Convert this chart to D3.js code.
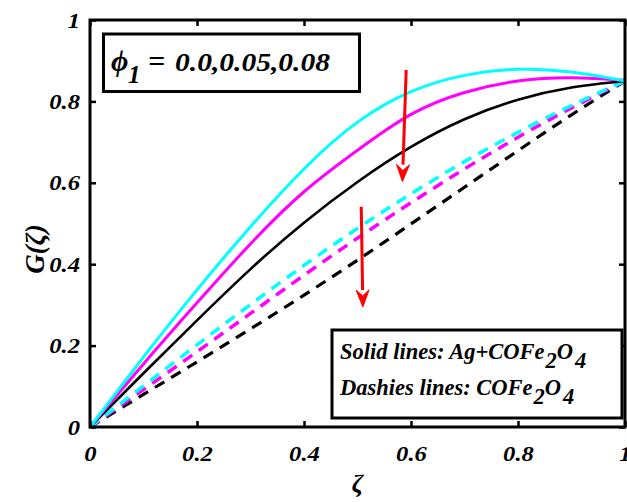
<!DOCTYPE html>
<html>
<head>
<meta charset="utf-8">
<script src="https://cdn.jsdelivr.net/npm/d3@7"></script>
<style>
  html, body { margin: 0; padding: 0; background: #fff; }
  svg { display: block; }
  text { font-family: "Liberation Serif", "Times New Roman", serif; font-weight: bold; font-style: italic; fill: #000; }
</style>
</head>
<body>
<svg id="chart" width="627" height="502"></svg>
<script>
// ---------- data ----------
const zeta = [0, 0.1, 0.2, 0.3, 0.4, 0.5, 0.6, 0.7, 0.8, 0.9, 1.0];

// Solid lines: Ag+COFe2O4
const solidCyan    = [0, 0.172, 0.337, 0.492, 0.634, 0.749, 0.824, 0.864, 0.879, 0.872, 0.850];
const solidMagenta = [0, 0.155, 0.305, 0.450, 0.578, 0.680, 0.768, 0.822, 0.850, 0.858, 0.852];
const solidBlack   = [0, 0.132, 0.262, 0.388, 0.502, 0.602, 0.688, 0.756, 0.804, 0.834, 0.850];

// Dashed lines: COFe2O4
const dashCyan     = [0, 0.101, 0.202, 0.301, 0.397, 0.488, 0.573, 0.652, 0.724, 0.790, 0.850];
const dashMagenta  = [0, 0.092, 0.185, 0.279, 0.373, 0.464, 0.551, 0.634, 0.712, 0.784, 0.850];
const dashBlack    = [0, 0.080, 0.160, 0.241, 0.324, 0.410, 0.499, 0.589, 0.679, 0.767, 0.850];

const xTicks = [0, 0.2, 0.4, 0.6, 0.8, 1];
const yTicks = [0, 0.2, 0.4, 0.6, 0.8, 1];
const xTickLabels = ["0", "0.2", "0.4", "0.6", "0.8", "1"];
const yTickLabels = ["0", "0.2", "0.4", "0.6", "0.8", "1"];

// red annotation arrows, in data coordinates [x0, y0, x1, y1]
const arrows = [
  [0.591, 0.877, 0.584, 0.603],
  [0.507, 0.541, 0.510, 0.295]
];

// ---------- layout ----------
const svg = d3.select("#chart");
const mL = 90, mR = 625, mT = 20, mB = 427;

const x = d3.scaleLinear().domain([0, 1]).range([mL, mR]);
const y = d3.scaleLinear().domain([0, 1]).range([mB, mT]);

const series = [
  { v: dashBlack,    color: "#000000", dash: "11,8", w: 3.2 },
  { v: dashMagenta,  color: "#ff00ff", dash: "11,8", w: 3.5 },
  { v: dashCyan,     color: "#00ffff", dash: "11,8", w: 3.5 },
  { v: solidBlack,   color: "#000000", dash: null,   w: 2.6 },
  { v: solidMagenta, color: "#ff00ff", dash: null,   w: 3.0 },
  { v: solidCyan,    color: "#00ffff", dash: null,   w: 3.0 }
];

const line = d3.line()
  .x(d => x(d[0]))
  .y(d => y(d[1]))
  .curve(d3.curveNatural);

svg.append("g").selectAll("path")
  .data(series)
  .join("path")
  .attr("d", s => line(zeta.map((z, i) => [z, s.v[i]])))
  .attr("fill", "none")
  .attr("stroke", s => s.color)
  .attr("stroke-width", s => s.w)
  .attr("stroke-dasharray", s => s.dash);

// ---------- axes ----------
const tickLen = 6;
const gx = svg.append("g").attr("transform", `translate(0,${mB})`)
  .call(d3.axisBottom(x).tickValues(xTicks).tickSize(-tickLen)
    .tickFormat((d, i) => xTickLabels[i]));
const gy = svg.append("g").attr("transform", `translate(${mL},0)`)
  .call(d3.axisLeft(y).tickValues(yTicks).tickSize(-tickLen)
    .tickFormat((d, i) => yTickLabels[i]));
const gt = svg.append("g").attr("transform", `translate(0,${mT})`)
  .call(d3.axisTop(x).tickValues(xTicks).tickSize(-tickLen).tickFormat(""));
const gr = svg.append("g").attr("transform", `translate(${mR},0)`)
  .call(d3.axisRight(y).tickValues(yTicks).tickSize(-tickLen).tickFormat(""));

[gx, gy, gt, gr].forEach(g => {
  g.select(".domain").remove();
  g.attr("font-family", null).attr("font-size", null);
  g.selectAll(".tick line").attr("stroke", "#000").attr("stroke-width", 2.5);
});

const sx = 1.12;
gx.selectAll(".tick text")
  .attr("y", 34).attr("dy", null)
  .style("font-size", "22px")
  .attr("transform", `scale(${sx},1)`);
gy.selectAll(".tick text")
  .attr("x", -10 / sx).attr("dy", "0.32em")
  .style("font-size", "22px")
  .attr("transform", `scale(${sx},1)`);

// frame
svg.append("rect")
  .attr("x", mL).attr("y", mT)
  .attr("width", mR - mL).attr("height", mB - mT)
  .attr("fill", "none").attr("stroke", "#000").attr("stroke-width", 3);

// axis titles
svg.append("text")
  .attr("x", x(0.5)).attr("y", 492)
  .attr("text-anchor", "middle")
  .style("font-size", "26px")
  .text("ζ");

svg.append("text")
  .attr("transform", `translate(44,249) rotate(-90)`)
  .attr("text-anchor", "middle")
  .style("font-size", "27px")
  .text("G(ζ)");

// ---------- red arrows ----------
const ag = svg.append("g");
arrows.forEach(a => {
  const x0 = x(a[0]), y0 = y(a[1]), x1 = x(a[2]), y1 = y(a[3]);
  const ang = Math.atan2(y1 - y0, x1 - x0);
  const hl = 17, hw = 6.5;
  const bx = x1 - hl * Math.cos(ang), by = y1 - hl * Math.sin(ang);
  const px = -Math.sin(ang) * hw, py = Math.cos(ang) * hw;
  ag.append("line")
    .attr("x1", x0).attr("y1", y0).attr("x2", bx).attr("y2", by)
    .attr("stroke", "#ff0000").attr("stroke-width", 3);
  ag.append("path")
    .attr("d", `M${x1},${y1} L${bx + px},${by + py} L${bx + 0.35 * (x1 - bx)},${by + 0.35 * (y1 - by)} L${bx - px},${by - py} Z`)
    .attr("fill", "#ff0000").attr("stroke", "#ff0000").attr("stroke-width", 1);
});

// ---------- legend 1 ----------
svg.append("rect")
  .attr("x", 103.5).attr("y", 34).attr("width", 256).attr("height", 57.5)
  .attr("fill", "#fff").attr("stroke", "#000").attr("stroke-width", 3);
svg.append("text").attr("x", 111).attr("y", 71)
  .style("font-size", "30px")
  .text("ϕ");
svg.append("text").attr("x", 128).attr("y", 83)
  .style("font-size", "25px")
  .text("1");
svg.append("text").attr("x", 148).attr("y", 71)
  .style("font-size", "30px")
  .text("=");
svg.append("text").attr("x", 175).attr("y", 71)
  .style("font-size", "26px")
  .attr("textLength", 155).attr("lengthAdjust", "spacingAndGlyphs")
  .text("0.0,0.05,0.08");

// ---------- legend 2 ----------
svg.append("rect")
  .attr("x", 332).attr("y", 330).attr("width", 290).attr("height", 88)
  .attr("fill", "#fff").attr("stroke", "#000").attr("stroke-width", 3);

function chem(prefix, yb) {
  const tx = svg.append("text").attr("x", 340).attr("y", yb).style("font-size", "22.5px");
  tx.append("tspan").text(prefix + "COFe");
  tx.append("tspan").attr("dx", 1).attr("dy", 9).text("2");
  tx.append("tspan").attr("dy", -9).text("O");
  tx.append("tspan").attr("dx", 2).attr("dy", 9).text("4");
  return tx;
}
chem("Solid lines: Ag+", 359);
chem("Dashies lines: ", 395);
</script>
</body>
</html>
